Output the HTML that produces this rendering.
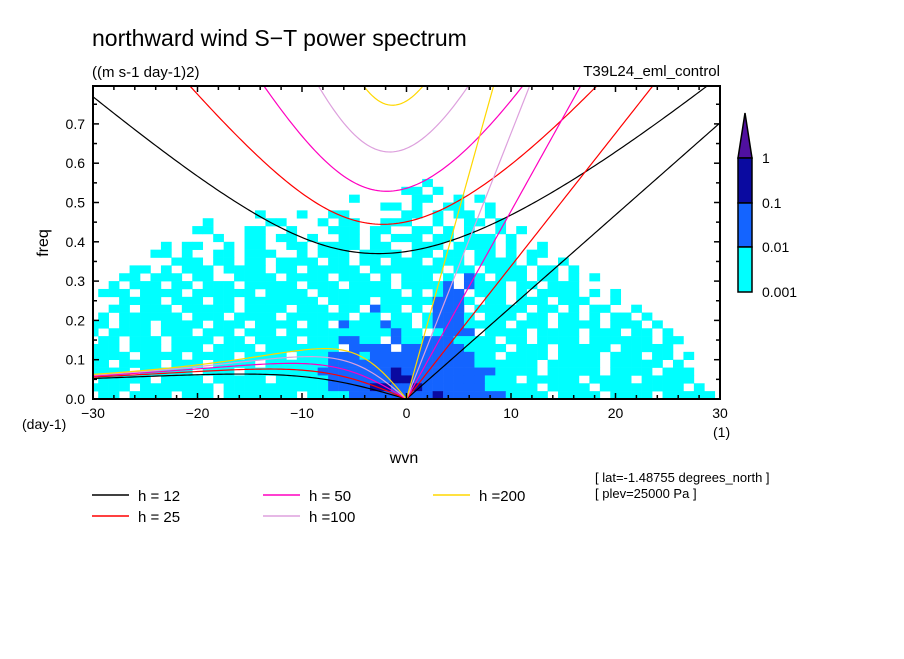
<!DOCTYPE html>
<html><head><meta charset="utf-8"><style>
body{margin:0;background:#fff;width:904px;height:654px;overflow:hidden}
svg text{font-family:"Liberation Sans","DejaVu Sans",sans-serif;fill:#000}
</style></head><body>
<svg id="chart" width="904" height="654" viewBox="0 0 904 654" xmlns="http://www.w3.org/2000/svg">
<defs><clipPath id="plotclip"><rect x="93" y="86" width="627" height="313"/></clipPath></defs>
<text x="92" y="46" font-size="23">northward wind S−T power spectrum</text>
<text x="92" y="77" font-size="15">((m s-1 day-1)2)</text>
<text x="720" y="76" font-size="15" text-anchor="end">T39L24_eml_control</text>
<g id="cells" clip-path="url(#plotclip)"></g>
<g id="curves" clip-path="url(#plotclip)"></g>
<rect x="93" y="86" width="627" height="313" fill="none" stroke="#000" stroke-width="2"/>
<g id="ticks"></g>
<text x="0" y="0" font-size="16" transform="translate(48,243) rotate(-90)" text-anchor="middle">freq</text>
<text x="22" y="429" font-size="14">(day-1)</text>
<text x="404" y="463" font-size="16" text-anchor="middle">wvn</text>
<text x="713" y="437" font-size="14">(1)</text>
<g>
<polygon points="745,113 752,158 738,158" fill="#5010a0" stroke="#000" stroke-width="1.5"/>
<rect x="738" y="158" width="14" height="45" fill="#0a0aa0" stroke="#000" stroke-width="1.5"/>
<rect x="738" y="203" width="14" height="44" fill="#1464ff" stroke="#000" stroke-width="1.5"/>
<rect x="738" y="247" width="14" height="45" fill="#00ffff" stroke="#000" stroke-width="1.5"/>
<text x="762" y="163" font-size="14">1</text>
<text x="762" y="208" font-size="14">0.1</text>
<text x="762" y="252" font-size="14">0.01</text>
<text x="762" y="297" font-size="14">0.001</text>
</g>
<text x="595" y="482" font-size="13">[ lat=-1.48755 degrees_north ]</text>
<text x="595" y="498" font-size="13">[ plev=25000 Pa ]</text>
<g id="legend"></g>
</svg>
<script>
const hValues=[12,25,50,100,200];
const hColors=["#000000","#ff0000","#ff00c0","#dda0dd","#ffd700"];
const hLabels=["h = 12","h = 25","h = 50","h =100","h =200"];
const xTickLabels=[-30,-20,-10,0,10,20,30];
const yTickLabels=["0.0","0.1","0.2","0.3","0.4","0.5","0.6","0.7"];
const fStep=0.02;
const wvnStart=-30;
const levelColors=["none","#00ffff","#1464ff","#0a0aa0"];
// rows from freq 0.54-0.56 (top) down to 0.00-0.02 (bottom); columns wvn -30..30
const spectrumRows=[
"................................1............................",
"..............................11.1...........................",
".........................1.....11..1.1.......................",
"............................11.1..11..1.......................",
"................1...1..11.....11.1.11.1.......................",
"...........1.....11...1.11..111..1..11.1.....................",
"..........11...11..1...111.11..11.1.1..1.1...................",
"............1..11.11.1..11.1.111.11.111.1....................",
".......1.11..1.11..11.1111.11..111.1111.1..1.................",
"......11.1..11.111..1.111.1111.11.11.11.1.11.................",
"........111.11.11.1111.11.11.111.111.1111.1..1...............",
"....11.1.111.1111.11.11111.1111111.11.1111.11.1..............",
"...11.111.11..1111.1111.111.1.111.1.21.111.11.1.1............",
"..1.111.11.111.11111.111.1111.11112.2111.11.111..............",
".111.1111.111111.1111.11111111.1.122.111.1.1111.1.1..........",
"...1111.111.11.1111111.1111.111112221.11.111.111..1..........",
"..11.111.11111.1111.111.11.211.1.222.11111.11.1.11..1........",
".1.111111.111.1111.111111.11.11.12221.111.11.11.1.11.1.......",
"11.111.1111.111.1111.11.2111211.12221111.111.1111.111.1......",
"1.1111.111.111.111.1111111111211.1222.1111.1111.111.11.1.....",
".11.111.1111.11.1111.1112211.2112221111.11.1111.111111.11....",
"111.111.111.1111.1111111.2222.2222221111.111.11111.11111.....",
"1111.1111.1111.1111.1112221222222222211.1111.1111.111.11.1...",
"11.1111.111.1111.11111122222222222222111111.11111.11111.1....",
"1111.11111.111.1111111222222232222222221111.11111.1111.111...",
".11111.1111.11111.11111222222332222222111.11111.1111.11111...",
"1111.1111111.111111111122223322322222211111.1111.11111111.1..",
".11.1111.111.1111111.11112222222232222221111.1111.1111.11111."
];
const NS="http://www.w3.org/2000/svg";
function xs(w){return 93+(w+30)*627/60;}
function ys(f){return 399-f*393;}
function mk(tag,attrs){const e=document.createElementNS(NS,tag);for(const k in attrs)e.setAttribute(k,attrs[k]);return e;}
const cells=document.getElementById('cells');
const nRows=spectrumRows.length;
spectrumRows.forEach((row,ri)=>{
  const f0=(nRows-1-ri)*fStep;
  for(let ci=0;ci<61;ci++){
    const lv=+(row[ci]||'.')||0;
    if(!lv)continue;
    const w=wvnStart+ci;
    const r=mk('rect',{x:xs(w-0.5),y:ys(f0+fStep),width:xs(w+0.5)-xs(w-0.5)+0.3,height:ys(f0)-ys(f0+fStep)+0.3,fill:levelColors[lv]});
    
    
    cells.appendChild(r);
  }
});
const g=9.81,a=6.371e6,beta=2*7.292e-5/a,toCpd=86400/(2*Math.PI);
function roots(k,c){
  const A=c*c*k*k+3*beta*c,B=beta*c*c*k;
  const m=2*Math.sqrt(A/3);
  let arg=(3*B/(2*A))*Math.sqrt(3/A);arg=Math.max(-1,Math.min(1,arg));
  const th=Math.acos(arg)/3;
  return [m*Math.cos(th),m*Math.cos(th-2*Math.PI/3),m*Math.cos(th-4*Math.PI/3)];
}
const curves=document.getElementById('curves');
hValues.forEach((h,hi)=>{
  const c=Math.sqrt(g*h);
  let ig=[],ro=[],kv=[];
  for(let s=-30;s<=30.001;s+=0.25){
    const k=s/a;const r=roots(k,c).sort((p,q)=>q-p);
    ig.push(xs(s)+','+ys(r[0]*toCpd));
    if(s<=0)ro.push(xs(s)+','+ys(r[1]*toCpd));
    if(s>=0)kv.push(xs(s)+','+ys(c*k*toCpd));
  }
  [['ig',ig],['rossby',ro],['kelvin',kv]].forEach(([nm,pts])=>{
    const p=mk('polyline',{points:pts.join(' '),fill:'none',stroke:hColors[hi],'stroke-width':1.2});
    
    
    curves.appendChild(p);
  });
});
const ticks=document.getElementById('ticks');
for(let w=-30;w<=30;w+=2){
  const L=(w%10===0)?6:4;
  ticks.appendChild(mk('line',{x1:xs(w),x2:xs(w),y1:399,y2:399-L,stroke:'#000','stroke-width':1.5}));
  ticks.appendChild(mk('line',{x1:xs(w),x2:xs(w),y1:86,y2:86+L,stroke:'#000','stroke-width':1.5}));
}
for(let i=0;i<=15;i++){
  const f=i*0.05,L=(i%2===0)?6:4;
  ticks.appendChild(mk('line',{x1:93,x2:93+L,y1:ys(f),y2:ys(f),stroke:'#000','stroke-width':1.5}));
  ticks.appendChild(mk('line',{x1:720,x2:720-L,y1:ys(f),y2:ys(f),stroke:'#000','stroke-width':1.5}));
}
xTickLabels.forEach(v=>{
  const t=mk('text',{x:xs(v),y:418,'font-size':14,'text-anchor':'middle'});
  t.textContent=(v<0?'−':'')+Math.abs(v);
  
  
  ticks.appendChild(t);
});
yTickLabels.forEach((v,i)=>{
  const t=mk('text',{x:85,y:ys(i*0.1)+5,'font-size':14,'text-anchor':'end'});
  t.textContent=v;
  
  
  ticks.appendChild(t);
});
const legend=document.getElementById('legend');
const lx=[92,92,263,263,433],ly=[495,516,495,516,495];
hLabels.forEach((lab,i)=>{
  const l=mk('line',{x1:lx[i],x2:lx[i]+37,y1:ly[i],y2:ly[i],stroke:hColors[i],'stroke-width':1.5});
  
  
  legend.appendChild(l);
  const t=mk('text',{x:lx[i]+46,y:ly[i]+6,'font-size':15});
  t.textContent=lab;
  
  
  legend.appendChild(t);
});
</script>
</body></html>
